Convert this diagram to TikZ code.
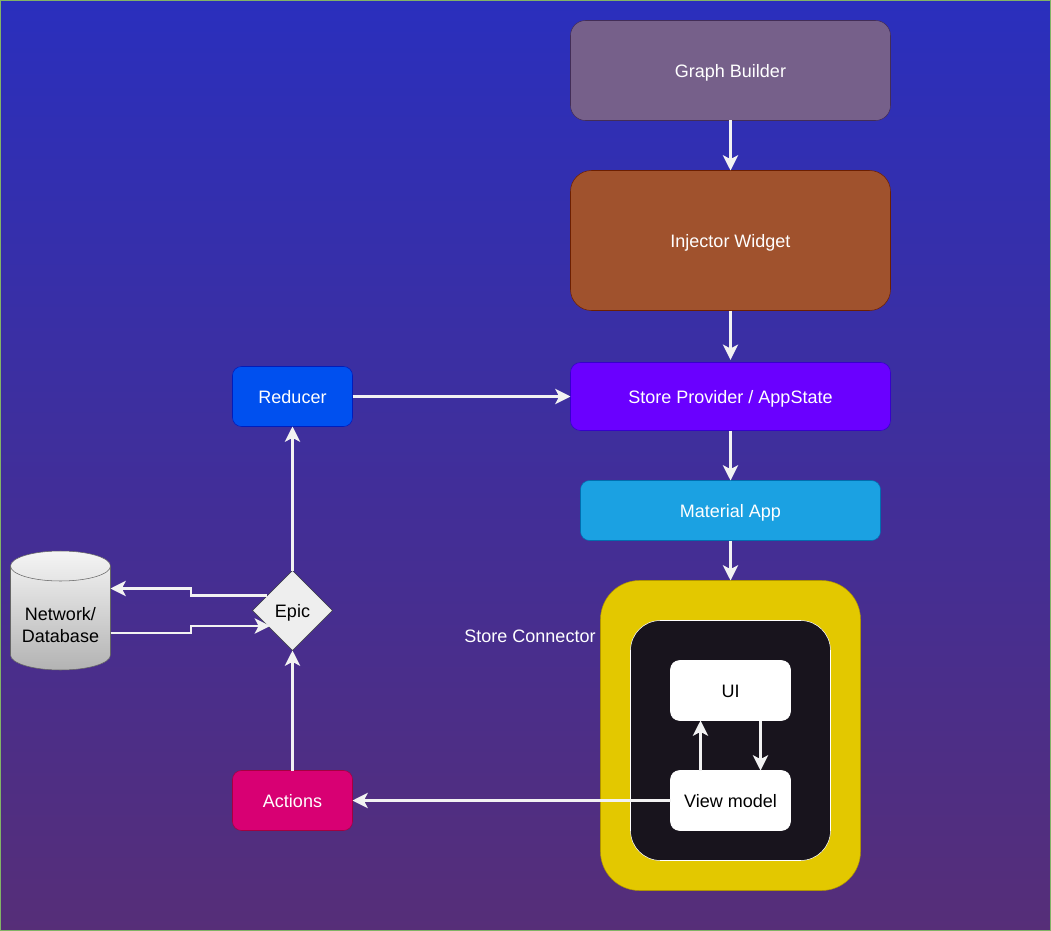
\documentclass[tikz,border=0pt]{standalone}
\usepackage{fontspec}
\setmainfont{Liberation Sans}
\usetikzlibrary{arrows.meta,shapes.geometric}
\definecolor{bgtop}{HTML}{2A2FBD}
\definecolor{bgbottom}{HTML}{562E78}
\definecolor{linkwhite}{HTML}{F2F2F2}
\tikzset{
  label text/.style={font=\fontsize{13.5pt}{16.5pt}\selectfont,text height=13.9pt,text depth=3pt},
  box/.style={draw,rectangle,rounded corners=#1*0.75pt,inner sep=0pt,outer sep=0pt,text=white,label text},
  link/.style={draw=linkwhite,line width=1.6pt,-{Stealth[length=11.5pt,width=11.5pt,inset=3pt]}},
}
\begin{document}
\begin{tikzpicture}[x=0.75pt,y=0.75pt,yscale=-1,xscale=1]
\useasboundingbox (0,0) rectangle (1051,931);

%Background
\shade [top color=bgtop,bottom color=bgbottom] (0,0) rectangle (1051,931);
\draw [color={rgb, 255:red, 130; green, 179; blue, 102 },line width=1.2pt] (0,0) rectangle (1051,931);

%Right column
\node (graph) [box=15,fill={rgb, 255:red, 118; green, 96; blue, 138 },draw={rgb, 255:red, 67; green, 45; blue, 87 },minimum width=240pt,minimum height=75pt] at (730.5,70.5) {Graph Builder};
\node (injector) [box=21,fill={rgb, 255:red, 160; green, 82; blue, 45 },draw={rgb, 255:red, 109; green, 31; blue, 0 },minimum width=240pt,minimum height=105pt] at (730.5,240.5) {Injector Widget};
\node (provider) [box=10,fill={rgb, 255:red, 106; green, 0; blue, 255 },draw={rgb, 255:red, 55; green, 0; blue, 204 },minimum width=240pt,minimum height=51pt] at (730.5,396.5) {Store Provider / AppState};
\node (material) [box=9,fill={rgb, 255:red, 27; green, 161; blue, 226 },draw={rgb, 255:red, 0; green, 110; blue, 175 },minimum width=225pt,minimum height=45pt] at (730.5,510.5) {Material App};

%Store connector
\node (connector) [box=39,fill={rgb, 255:red, 227; green, 200; blue, 0 },draw={rgb, 255:red, 176; green, 149; blue, 0 },minimum width=195pt,minimum height=232.5pt] at (730.5,735.5) {};
\node (inner) [box=30,fill={rgb, 255:red, 24; green, 20; blue, 29 },draw=white,minimum width=150pt,minimum height=180pt] at (730.5,740.5) {};
\node (ui) [box=9,fill=white,draw=white,text=black,minimum width=90pt,minimum height=45pt] at (730.5,690.5) {UI};
\node (viewmodel) [box=9,fill=white,draw=white,text=black,minimum width=90pt,minimum height=45pt] at (730.5,800.5) {View model};
\node (connectorlabel) [text=white,label text,inner sep=0pt] at (530,635) {Store Connector};

%Left column
\node (reducer) [box=9,fill={rgb, 255:red, 0; green, 80; blue, 239 },draw={rgb, 255:red, 0; green, 29; blue, 188 },minimum width=90pt,minimum height=45pt] at (292.5,396.5) {Reducer};
\node (actions) [box=9,fill={rgb, 255:red, 216; green, 0; blue, 115 },draw={rgb, 255:red, 165; green, 0; blue, 64 },minimum width=90pt,minimum height=45pt] at (292.5,800.5) {Actions};
\node (epic) [diamond,aspect=1,draw={rgb, 255:red, 54; green, 57; blue, 61 },fill={rgb, 255:red, 238; green, 238; blue, 238 },text=black,inner sep=0pt,outer sep=0pt,minimum width=60pt,minimum height=60pt,label text] at (292.5,610.5) {Epic};

%Shape: Cylinder
\shade [top color={rgb, 255:red, 245; green, 245; blue, 245 },bottom color={rgb, 255:red, 179; green, 179; blue, 179 }] (10.5,566) .. controls (10.5,557.7) and (32.7,551) .. (60.5,551) .. controls (88.3,551) and (110.5,557.7) .. (110.5,566) -- (110.5,655) .. controls (110.5,663.3) and (88.3,670) .. (60.5,670) .. controls (32.7,670) and (10.5,663.3) .. (10.5,655) -- cycle ;
\draw [color={rgb, 255:red, 102; green, 102; blue, 102 }] (10.5,566) .. controls (10.5,557.7) and (32.7,551) .. (60.5,551) .. controls (88.3,551) and (110.5,557.7) .. (110.5,566) -- (110.5,655) .. controls (110.5,663.3) and (88.3,670) .. (60.5,670) .. controls (32.7,670) and (10.5,663.3) .. (10.5,655) -- cycle ;
\draw [color={rgb, 255:red, 102; green, 102; blue, 102 }] (10.5,566) .. controls (10.5,574.3) and (32.7,581) .. (60.5,581) .. controls (88.3,581) and (110.5,574.3) .. (110.5,566) ;
\node (database) [align=center,inner sep=0pt,font=\fontsize{13.5pt}{16.5pt}\selectfont,text=black] at (60.5,625) {Network/\\Database};

\coordinate (dbin) at (110.5,588.5);
\coordinate (dbout) at (110.5,633);
\coordinate (epicout) at (267,595.5);
\coordinate (epicin) at (270,626);

%Straight Lines
\draw [link] (graph) -- (injector);
\draw [link,shorten >=2pt] (injector) -- (provider);
\draw [link] (provider) -- (material);
\draw [link] (material) -- (connector);
\draw [link] (reducer) -- (provider);
\draw [link] (epic) -- (reducer);
\draw [link] (actions) -- (epic);
\draw [link] (viewmodel) -- (actions);
\draw [link] ([xshift=-22.5pt]viewmodel.north) -- ([xshift=-22.5pt]ui.south);
\draw [link] ([xshift=22.5pt]ui.south) -- ([xshift=22.5pt]viewmodel.north);
\draw [link] (epicout) -- (191,595.5) -- (191,588.5) -- (dbin);
\draw [link] (dbout) -- (191,633) -- (191,626) -- (epicin);

\end{tikzpicture}
\end{document}
